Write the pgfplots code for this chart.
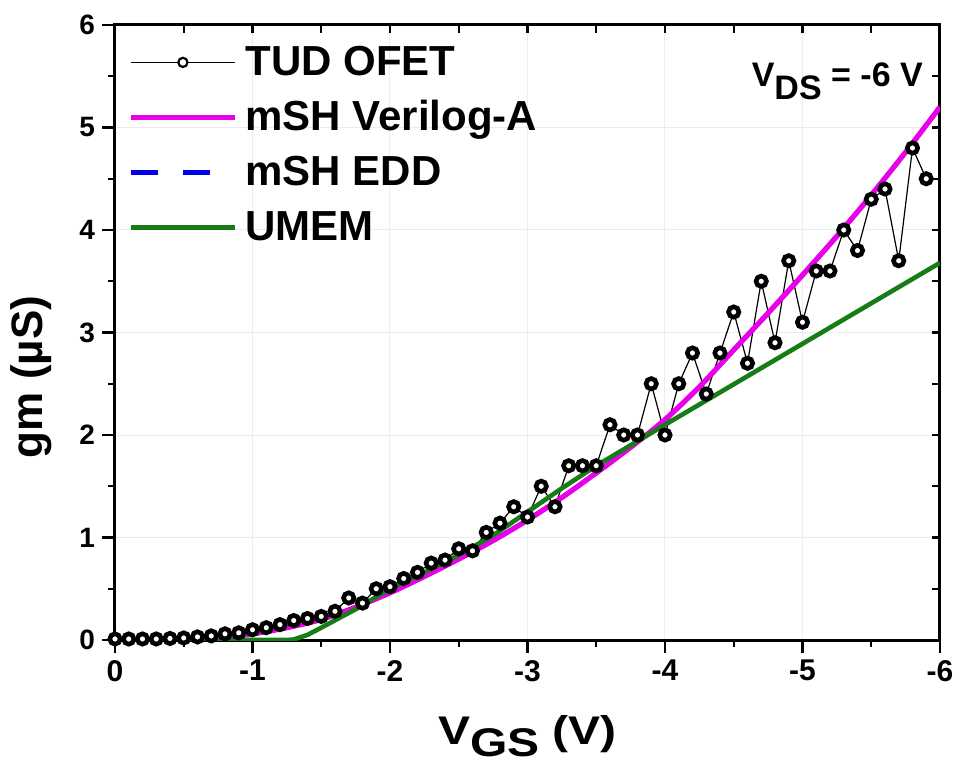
\documentclass[border=0pt]{standalone}
\usepackage{fontspec}
\setmainfont{Liberation Sans}
\newfontfamily\widefont[FakeStretch=1.2]{Liberation Sans}
\usepackage{pgfplots}
\usepackage{pgfplotstable}
\pgfplotsset{compat=1.18}

\definecolor{vamag}{RGB}{232,0,232}
\definecolor{eddblue}{RGB}{0,0,230}
\definecolor{umemgreen}{RGB}{22,125,22}

% measured TUD OFET data, V_GS in V, g_m in uS
\pgfplotstableread{
vgs gm
0.0 0.01
-0.1 0.01
-0.2 0.01
-0.3 0.01
-0.4 0.015
-0.5 0.02
-0.6 0.03
-0.7 0.04
-0.8 0.06
-0.9 0.07
-1.0 0.10
-1.1 0.12
-1.2 0.15
-1.3 0.19
-1.4 0.21
-1.5 0.23
-1.6 0.28
-1.7 0.41
-1.8 0.36
-1.9 0.50
-2.0 0.52
-2.1 0.60
-2.2 0.66
-2.3 0.75
-2.4 0.78
-2.5 0.89
-2.6 0.87
-2.7 1.05
-2.8 1.14
-2.9 1.30
-3.0 1.20
-3.1 1.50
-3.2 1.30
-3.3 1.70
-3.4 1.70
-3.5 1.70
-3.6 2.10
-3.7 2.00
-3.8 2.00
-3.9 2.50
-4.0 2.00
-4.1 2.50
-4.2 2.80
-4.3 2.40
-4.4 2.80
-4.5 3.20
-4.6 2.70
-4.7 3.50
-4.8 2.90
-4.9 3.70
-5.0 3.10
-5.1 3.60
-5.2 3.60
-5.3 4.00
-5.4 3.80
-5.5 4.30
-5.6 4.40
-5.7 3.70
-5.8 4.80
-5.9 4.50
}\tud

% mSH model (Verilog-A and EDD coincide)
\pgfplotstableread{
vgs gm
0.0 0.0
-0.5 0.005
-0.75 0.02
-1.0 0.06
-1.25 0.12
-1.5 0.20
-1.75 0.32
-2.0 0.46
-2.25 0.62
-2.5 0.79
-2.75 0.97
-3.0 1.17
-3.25 1.39
-3.5 1.63
-3.75 1.88
-4.0 2.15
-4.25 2.47
-4.5 2.83
-4.75 3.19
-5.0 3.56
-5.25 3.94
-5.5 4.34
-5.75 4.76
-6.0 5.20
}\msh

\pgfplotstableread{
vgs gm
0.0 0.0
-1.25 0.0
-1.3 0.005
-1.4 0.05
-1.5 0.12
-1.75 0.30
-2.0 0.50
-2.25 0.66
-2.5 0.83
-2.75 1.02
-3.0 1.25
-3.25 1.48
-3.5 1.70
-4.0 2.10
-5.0 2.89
-6.0 3.68
}\umem

\begin{document}
\begin{tikzpicture}
\begin{axis}[
    name=main,
    scale only axis, width=412.5pt, height=307.5pt,
    xmin=-6, xmax=0, ymin=0, ymax=6, x dir=reverse,
    xtick={0,-1,-2,-3,-4,-5,-6}, xticklabels={0,-1,-2,-3,-4,-5,-6},
    ytick={0,1,2,3,4,5,6}, yticklabels={0,1,2,3,4,5,6},
    minor x tick num=1, minor y tick num=1,
    tick align=outside, xtick pos=bottom, ytick pos=left,
    major tick length=6.5pt, minor tick length=3.5pt,
    every tick/.style={black, line width=1.2pt},
    axis line style={line width=1.5pt},
    grid=major, major grid style={gray!15, line width=0.5pt},
    xticklabel style={font=\fontsize{15}{15}\selectfont\bfseries},
    yticklabel style={font=\fontsize{14}{14}\selectfont\bfseries},
    xlabel={V\raisebox{-6pt}{GS} (V)},
    xlabel style={font=\fontsize{20}{20}\selectfont\bfseries\widefont, at={(axis description cs:0.5,-0.1707)}, anchor=base},
    ylabel={gm (µS)},
    ylabel style={font=\fontsize{22}{22}\selectfont\bfseries, at={(axis description cs:-0.0873,0.4276)}, anchor=base},
    legend style={draw=none, fill=none, at={(0.0158,0.9675)}, anchor=north west,
        font=\fontsize{21}{21}\selectfont\bfseries, row sep=7.5pt, inner sep=0pt,
        nodes={inner sep=0pt, text height=15pt, text depth=5pt},
        /tikz/every odd column/.append style={column sep=4pt}},
    legend cell align=left,
    legend image code/.code={\draw[#1] (0pt,1.5pt) -- (52pt,1.5pt);},
]
\addlegendimage{legend image code/.code={
    \draw[black, line width=0.6pt] (0pt,1.5pt) -- (52pt,1.5pt);
    \draw[black, line width=1.1pt, fill=white] (26pt,1.5pt) circle (2.3pt);}}
\addlegendentry{TUD OFET}
\addlegendimage{vamag, line width=2.5pt}
\addlegendentry{mSH Verilog-A}
\addlegendimage{eddblue, line width=2.5pt, dash pattern=on 13.5pt off 12.5pt}
\addlegendentry{mSH EDD}
\addlegendimage{umemgreen, line width=2.5pt}
\addlegendentry{UMEM}

\addplot[forget plot, black, line width=0.6pt, mark=*, mark size=2.6pt,
    mark options={fill=white, line width=2.3pt}] table[x=vgs, y=gm] {\tud};
\addplot[forget plot, eddblue, line width=2.2pt, dashed, smooth] table[x=vgs, y=gm] {\msh};
\addplot[forget plot, vamag, line width=2.6pt, smooth] table[x=vgs, y=gm] {\msh};
\addplot[forget plot, umemgreen, line width=2.3pt] table[x=vgs, y=gm] {\umem};

\node[anchor=base west, font=\fontsize{17}{17}\selectfont\bfseries]
    at (axis cs:-4.58,5.4) {V\raisebox{-6.5pt}{DS} = -6 V};
\end{axis}
\begin{axis}[
    scale only axis, width=412.5pt, height=307.5pt,
    xmin=-6, xmax=0, ymin=0, ymax=6, x dir=reverse,
    xtick={0,-1,-2,-3,-4,-5,-6}, ytick={0,1,2,3,4,5,6},
    xticklabels={}, yticklabels={},
    minor x tick num=1, minor y tick num=1,
    tick align=inside, xtick pos=top, ytick pos=right,
    major tick length=4pt, minor tick length=4pt,
    every tick/.style={black, line width=1.2pt},
    axis line style={draw=none},
]
\end{axis}
\pgfresetboundingbox
\path[use as bounding box] ([shift={(-57.5pt,-65.5pt)}]main.south west) rectangle ([shift={(9pt,12.5pt)}]main.north east);
\end{tikzpicture}
\end{document}
